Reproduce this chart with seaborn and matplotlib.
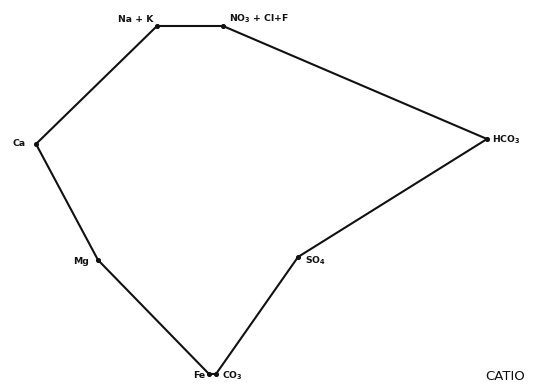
import matplotlib
matplotlib.use("Agg")
import matplotlib.pyplot as plt
import seaborn as sns
import pandas as pd

# vertices of the diagram, in picture order (closed polygon)
ions = ["Ca", "Na+K", "NO3+Cl+F", "HCO3", "SO4", "CO3", "Fe", "Mg"]
x_pos = [36, 157, 223, 487, 298, 216, 209, 98]
y_pos = [144, 26, 26, 139, 257, 374, 374, 260]

labels = ["Ca", "Na + K", r"NO$_3$ + Cl+F", r"HCO$_3$", r"SO$_4$", r"CO$_3$", "Fe", "Mg"]
label_dx = [-10, -4, 6, 5, 7, 6, -4, -9]
label_dy = [0, -7, -7, 1, 4, 2, 1, 2]
label_ha = ["right", "right", "left", "left", "left", "left", "right", "right"]

sns.set_theme(style="white")
plt.rcParams['font.family'] = ['DejaVu Sans']
plt.rcParams['mathtext.default'] = 'bf'

df = pd.DataFrame({"ion": ions + [ions[0]],
                   "x": x_pos + [x_pos[0]],
                   "y": y_pos + [y_pos[0]]})

fig = plt.figure(figsize=(5.33, 3.86), dpi=100)
ax = fig.add_axes([0, 0, 1, 1])

sns.lineplot(data=df, x="x", y="y", sort=False, estimator=None,
             color="#111111", linewidth=1.5, ax=ax)
ax.scatter(x_pos, y_pos, s=7, color="#111111", zorder=3)

for lab, xv, yv, dx, dy, ha in zip(labels, x_pos, y_pos, label_dx, label_dy, label_ha):
    ax.text(xv + dx, yv + dy, lab, ha=ha, va="center", fontsize=6.7,
            fontweight="bold", color="#111111")

# the caption is cropped at the right edge in the reference
ax.text(485, 376, "CATIO", ha="left", va="center", fontsize=9.5, color="#111111")

ax.set_xlim(0, 533)
ax.set_ylim(386, 0)
ax.axis("off")

fig.savefig("out.png", dpi=100)
